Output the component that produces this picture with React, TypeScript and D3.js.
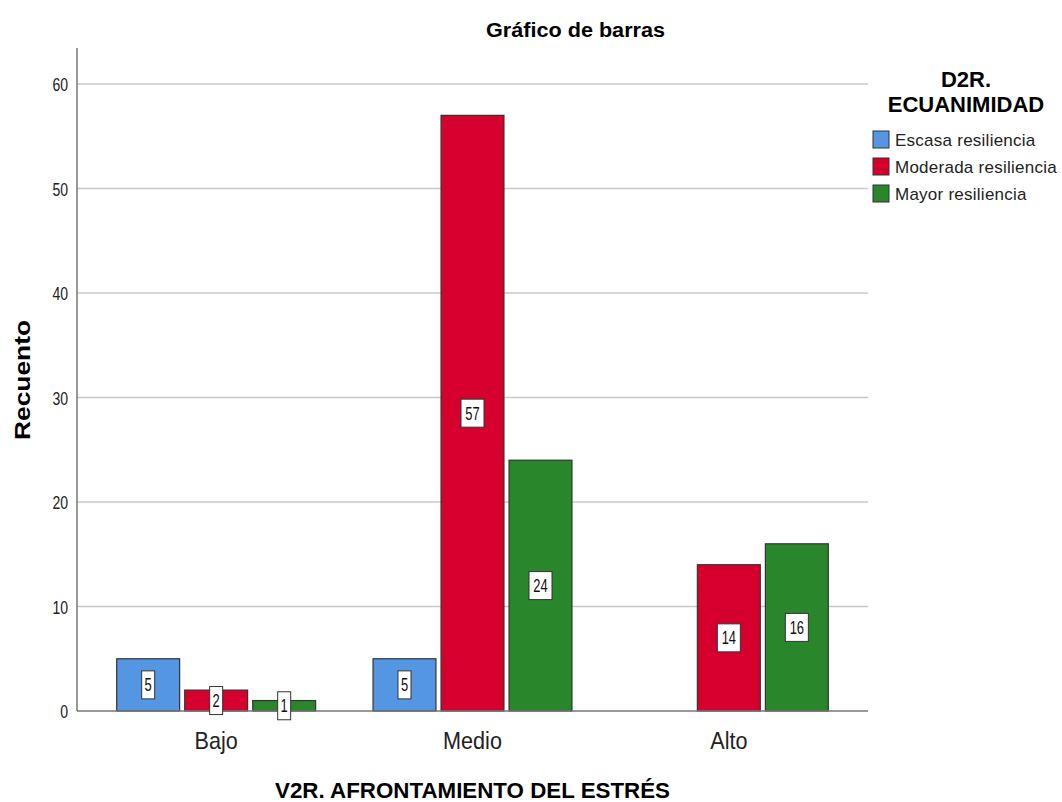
import React, { useEffect, useRef } from "react";
import * as d3 from "d3";

const categories = ["Bajo", "Medio", "Alto"];
const seriesNames = ["Escasa resiliencia", "Moderada resiliencia", "Mayor resiliencia"];
const seriesColors = ["#5596e3", "#d6002f", "#29862b"];
const escasa = [5, 5, 0];
const moderada = [2, 57, 14];
const mayor = [1, 24, 16];
const yTicks = [0, 10, 20, 30, 40, 50, 60];

const App = () => {
    const svgRef = useRef(null);

    useEffect(() => {
        const svg = d3.select(svgRef.current);
        svg.selectAll("*").remove();

        const W = 1062, H = 802;
        const left = 77, right = 868, top = 48, bottom = 711;
        const sans = "'Liberation Sans', Arial, sans-serif";

        svg.attr("width", W).attr("height", H);

        const values = [escasa, moderada, mayor];

        const x = d3.scaleBand()
            .domain(categories)
            .range([88, 857]);

        const xs = d3.scaleBand()
            .domain(seriesNames)
            .range([x.bandwidth() * 0.112, x.bandwidth() * 0.888])
            .paddingInner(0.075);

        const y = d3.scaleLinear().domain([0, 60]).range([bottom, 84]);

        // condensed text helper
        const narrowText = (sel, tx, ty, txt, size, sx, anchor) =>
            sel.append("text")
                .attr("transform", `translate(${tx},${ty}) scale(${sx},1)`)
                .attr("text-anchor", anchor)
                .style("font-family", sans)
                .style("font-size", size + "px")
                .attr("fill", "#222")
                .text(txt);

        // gridlines
        svg.append("g")
            .selectAll("line")
            .data(yTicks.filter(d => d > 0))
            .enter()
            .append("line")
            .attr("x1", left)
            .attr("x2", right)
            .attr("y1", d => y(d))
            .attr("y2", d => y(d))
            .attr("stroke", "#c8c8c8")
            .attr("stroke-width", 1.5);

        // y tick labels
        const yLab = svg.append("g");
        yTicks.forEach(t => narrowText(yLab, 68, y(t) + 7, t, 18, 0.78, "end"));

        // bars
        categories.forEach((cat, ci) => {
            const g = svg.append("g").attr("transform", `translate(${x(cat)},0)`);
            seriesNames.forEach((s, si) => {
                const v = values[si][ci];
                if (!v) return;
                g.append("rect")
                    .attr("x", xs(s))
                    .attr("y", y(v))
                    .attr("width", xs.bandwidth())
                    .attr("height", y(0) - y(v))
                    .attr("fill", seriesColors[si])
                    .attr("stroke", "#333")
                    .attr("stroke-width", 1.2);
            });
        });

        // axes lines
        svg.append("line")
            .attr("x1", left).attr("x2", left)
            .attr("y1", top).attr("y2", bottom)
            .attr("stroke", "#777").attr("stroke-width", 1.5);
        svg.append("line")
            .attr("x1", left).attr("x2", right)
            .attr("y1", bottom).attr("y2", bottom)
            .attr("stroke", "#777").attr("stroke-width", 1.5);

        // value labels
        categories.forEach((cat, ci) => {
            seriesNames.forEach((s, si) => {
                const v = values[si][ci];
                if (!v) return;
                const cx = x(cat) + xs(s) + xs.bandwidth() / 2;
                const cy = (y(v) + y(0)) / 2;
                const bw = String(v).length > 1 ? 23 : 13;
                svg.append("rect")
                    .attr("x", cx - bw / 2)
                    .attr("y", cy - 14)
                    .attr("width", bw)
                    .attr("height", 28)
                    .attr("fill", "#fff")
                    .attr("stroke", "#333")
                    .attr("stroke-width", 1);
                narrowText(svg, cx, cy + 6.5, v, 18, 0.72, "middle").attr("fill", "#111");
            });
        });

        // x tick labels
        const xLab = svg.append("g");
        categories.forEach(c => narrowText(xLab, x(c) + x.bandwidth() / 2, 749, c, 24, 0.9, "middle"));

        // titles
        svg.append("text")
            .attr("x", 486)
            .attr("y", 37)
            .attr("textLength", 179)
            .attr("lengthAdjust", "spacingAndGlyphs")
            .style("font-family", sans)
            .style("font-size", "20px")
            .style("font-weight", "bold")
            .text("Gráfico de barras");

        svg.append("text")
            .attr("x", 275)
            .attr("y", 798)
            .attr("textLength", 395)
            .attr("lengthAdjust", "spacingAndGlyphs")
            .style("font-family", sans)
            .style("font-size", "22px")
            .style("font-weight", "bold")
            .text("V2R. AFRONTAMIENTO DEL ESTRÉS");

        svg.append("text")
            .attr("transform", "rotate(-90)")
            .attr("x", -440)
            .attr("y", 30)
            .attr("textLength", 120)
            .attr("lengthAdjust", "spacingAndGlyphs")
            .style("font-family", sans)
            .style("font-size", "22px")
            .style("font-weight", "bold")
            .text("Recuento");

        // legend
        const legend = svg.append("g");
        legend.append("text")
            .attr("x", 966).attr("y", 87)
            .attr("text-anchor", "middle")
            .style("font-family", sans)
            .style("font-size", "22px")
            .style("font-weight", "bold")
            .text("D2R.");
        legend.append("text")
            .attr("x", 966).attr("y", 112)
            .attr("text-anchor", "middle")
            .style("font-family", sans)
            .style("font-size", "22px")
            .style("font-weight", "bold")
            .text("ECUANIMIDAD");

        seriesNames.forEach((s, i) => {
            const row = legend.append("g").attr("transform", `translate(873, ${131 + i * 27})`);
            row.append("rect")
                .attr("width", 16)
                .attr("height", 17)
                .attr("fill", seriesColors[i])
                .attr("stroke", "#333")
                .attr("stroke-width", 1);
            row.append("text")
                .attr("x", 22)
                .attr("y", 15)
                .style("font-family", sans)
                .style("font-size", "17px")
                .style("letter-spacing", "0.25px")
                .attr("fill", "#222")
                .text(s);
        });
    }, []);

    return (
        <svg ref={svgRef} style={{ position: "absolute", left: 0, top: 0, display: "block" }}></svg>
    );
};

export default App;
